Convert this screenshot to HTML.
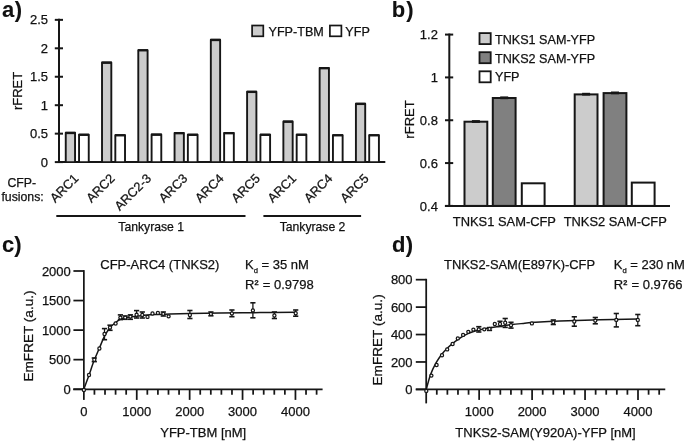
<!DOCTYPE html>
<html><head><meta charset="utf-8"><title>Figure</title>
<style>
html,body{margin:0;padding:0;background:#fff;}
body{width:685px;height:442px;overflow:hidden;}
svg{display:block;filter:grayscale(1);}
text{font-family:"Liberation Sans",sans-serif;fill:#111;stroke:#111;stroke-width:0.25px;}
text[font-weight=bold]{stroke-width:0.1px;}
</style></head><body>
<svg width="685" height="442" viewBox="0 0 685 442">
<rect x="0" y="0" width="685" height="442" fill="#fff"/>
<text x="1.9" y="16.5" font-size="22" text-anchor="start" font-weight="bold" >a<tspan dx="0.6">)</tspan></text>
<text x="391.8" y="16.6" font-size="22" text-anchor="start" font-weight="bold" >b<tspan dx="1.1">)</tspan></text>
<text x="2" y="252" font-size="22" text-anchor="start" font-weight="bold" >c)</text>
<text x="391.9" y="251.9" font-size="22" text-anchor="start" font-weight="bold" >d<tspan dx="0.5">)</tspan></text>
<line x1="54.8" y1="162.1" x2="63" y2="162.1" stroke="#161616" stroke-width="2" stroke-linecap="butt"/>
<text x="48" y="166.7" font-size="13" text-anchor="end" font-weight="normal" >0</text>
<line x1="54.8" y1="133.65" x2="63" y2="133.65" stroke="#161616" stroke-width="2" stroke-linecap="butt"/>
<text x="48" y="138.25" font-size="13" text-anchor="end" font-weight="normal" >0.5</text>
<line x1="54.8" y1="105.2" x2="63" y2="105.2" stroke="#161616" stroke-width="2" stroke-linecap="butt"/>
<text x="48" y="109.8" font-size="13" text-anchor="end" font-weight="normal" >1</text>
<line x1="54.8" y1="76.75" x2="63" y2="76.75" stroke="#161616" stroke-width="2" stroke-linecap="butt"/>
<text x="48" y="81.35" font-size="13" text-anchor="end" font-weight="normal" >1.5</text>
<line x1="54.8" y1="48.3" x2="63" y2="48.3" stroke="#161616" stroke-width="2" stroke-linecap="butt"/>
<text x="48" y="52.9" font-size="13" text-anchor="end" font-weight="normal" >2</text>
<line x1="54.8" y1="19.85" x2="63" y2="19.85" stroke="#161616" stroke-width="2" stroke-linecap="butt"/>
<text x="48" y="24.45" font-size="13" text-anchor="end" font-weight="normal" >2.5</text>
<line x1="59" y1="18.85" x2="59" y2="163.1" stroke="#161616" stroke-width="2" stroke-linecap="butt"/>
<line x1="58.2" y1="162.1" x2="385.3" y2="162.1" stroke="#161616" stroke-width="2" stroke-linecap="butt"/>
<text x="21.7" y="90.9" font-size="13" text-anchor="middle" font-weight="normal" transform="rotate(-90 21.7 90.9)">rFRET</text>
<rect x="65.75" y="132.8" width="9.3" height="29.3" fill="#cccccc" stroke="#161616" stroke-width="1.9" stroke-linejoin="round"/>
<line x1="65.35" y1="133" x2="75.45" y2="133" stroke="#161616" stroke-width="2.3" stroke-linecap="butt"/>
<rect x="79.05" y="134.6" width="9.7" height="27.5" fill="#ffffff" stroke="#161616" stroke-width="1.9" stroke-linejoin="round"/>
<line x1="78.65" y1="134.8" x2="89.15" y2="134.8" stroke="#161616" stroke-width="2.3" stroke-linecap="butt"/>
<text x="79.4" y="179.1" font-size="12.8" text-anchor="end" font-weight="normal" transform="rotate(-45 79.4 179.1)">ARC1</text>
<rect x="102.02" y="62.5" width="9.3" height="99.6" fill="#cccccc" stroke="#161616" stroke-width="1.9" stroke-linejoin="round"/>
<line x1="101.62" y1="62.7" x2="111.72" y2="62.7" stroke="#161616" stroke-width="2.3" stroke-linecap="butt"/>
<rect x="115.32" y="135.1" width="9.7" height="27" fill="#ffffff" stroke="#161616" stroke-width="1.9" stroke-linejoin="round"/>
<line x1="114.92" y1="135.3" x2="125.42" y2="135.3" stroke="#161616" stroke-width="2.3" stroke-linecap="butt"/>
<text x="115.67" y="179.1" font-size="12.8" text-anchor="end" font-weight="normal" transform="rotate(-45 115.67 179.1)">ARC2</text>
<rect x="138.29" y="50.1" width="9.3" height="112" fill="#cccccc" stroke="#161616" stroke-width="1.9" stroke-linejoin="round"/>
<line x1="137.89" y1="50.3" x2="147.99" y2="50.3" stroke="#161616" stroke-width="2.3" stroke-linecap="butt"/>
<rect x="151.59" y="134.5" width="9.7" height="27.6" fill="#ffffff" stroke="#161616" stroke-width="1.9" stroke-linejoin="round"/>
<line x1="151.19" y1="134.7" x2="161.69" y2="134.7" stroke="#161616" stroke-width="2.3" stroke-linecap="butt"/>
<text x="151.94" y="179.1" font-size="12.8" text-anchor="end" font-weight="normal" transform="rotate(-45 151.94 179.1)">ARC2-3</text>
<rect x="174.56" y="133" width="9.3" height="29.1" fill="#cccccc" stroke="#161616" stroke-width="1.9" stroke-linejoin="round"/>
<line x1="174.16" y1="133.2" x2="184.26" y2="133.2" stroke="#161616" stroke-width="2.3" stroke-linecap="butt"/>
<rect x="187.86" y="134.6" width="9.7" height="27.5" fill="#ffffff" stroke="#161616" stroke-width="1.9" stroke-linejoin="round"/>
<line x1="187.46" y1="134.8" x2="197.96" y2="134.8" stroke="#161616" stroke-width="2.3" stroke-linecap="butt"/>
<text x="188.21" y="179.1" font-size="12.8" text-anchor="end" font-weight="normal" transform="rotate(-45 188.21 179.1)">ARC3</text>
<rect x="210.83" y="39.8" width="9.3" height="122.3" fill="#cccccc" stroke="#161616" stroke-width="1.9" stroke-linejoin="round"/>
<line x1="210.43" y1="40" x2="220.53" y2="40" stroke="#161616" stroke-width="2.3" stroke-linecap="butt"/>
<rect x="224.13" y="133" width="9.7" height="29.1" fill="#ffffff" stroke="#161616" stroke-width="1.9" stroke-linejoin="round"/>
<line x1="223.73" y1="133.2" x2="234.23" y2="133.2" stroke="#161616" stroke-width="2.3" stroke-linecap="butt"/>
<text x="224.48" y="179.1" font-size="12.8" text-anchor="end" font-weight="normal" transform="rotate(-45 224.48 179.1)">ARC4</text>
<rect x="247.1" y="91.7" width="9.3" height="70.4" fill="#cccccc" stroke="#161616" stroke-width="1.9" stroke-linejoin="round"/>
<line x1="246.7" y1="91.9" x2="256.8" y2="91.9" stroke="#161616" stroke-width="2.3" stroke-linecap="butt"/>
<rect x="260.4" y="134.6" width="9.7" height="27.5" fill="#ffffff" stroke="#161616" stroke-width="1.9" stroke-linejoin="round"/>
<line x1="260" y1="134.8" x2="270.5" y2="134.8" stroke="#161616" stroke-width="2.3" stroke-linecap="butt"/>
<text x="260.75" y="179.1" font-size="12.8" text-anchor="end" font-weight="normal" transform="rotate(-45 260.75 179.1)">ARC5</text>
<rect x="283.37" y="121.5" width="9.3" height="40.6" fill="#cccccc" stroke="#161616" stroke-width="1.9" stroke-linejoin="round"/>
<line x1="282.97" y1="121.7" x2="293.07" y2="121.7" stroke="#161616" stroke-width="2.3" stroke-linecap="butt"/>
<rect x="296.67" y="134.6" width="9.7" height="27.5" fill="#ffffff" stroke="#161616" stroke-width="1.9" stroke-linejoin="round"/>
<line x1="296.27" y1="134.8" x2="306.77" y2="134.8" stroke="#161616" stroke-width="2.3" stroke-linecap="butt"/>
<text x="297.02" y="179.1" font-size="12.8" text-anchor="end" font-weight="normal" transform="rotate(-45 297.02 179.1)">ARC1</text>
<rect x="319.64" y="68" width="9.3" height="94.1" fill="#cccccc" stroke="#161616" stroke-width="1.9" stroke-linejoin="round"/>
<line x1="319.24" y1="68.2" x2="329.34" y2="68.2" stroke="#161616" stroke-width="2.3" stroke-linecap="butt"/>
<rect x="332.94" y="135.1" width="9.7" height="27" fill="#ffffff" stroke="#161616" stroke-width="1.9" stroke-linejoin="round"/>
<line x1="332.54" y1="135.3" x2="343.04" y2="135.3" stroke="#161616" stroke-width="2.3" stroke-linecap="butt"/>
<text x="333.29" y="179.1" font-size="12.8" text-anchor="end" font-weight="normal" transform="rotate(-45 333.29 179.1)">ARC4</text>
<rect x="355.91" y="103.7" width="9.3" height="58.4" fill="#cccccc" stroke="#161616" stroke-width="1.9" stroke-linejoin="round"/>
<line x1="355.51" y1="103.9" x2="365.61" y2="103.9" stroke="#161616" stroke-width="2.3" stroke-linecap="butt"/>
<rect x="369.21" y="135.1" width="9.7" height="27" fill="#ffffff" stroke="#161616" stroke-width="1.9" stroke-linejoin="round"/>
<line x1="368.81" y1="135.3" x2="379.31" y2="135.3" stroke="#161616" stroke-width="2.3" stroke-linecap="butt"/>
<text x="369.56" y="179.1" font-size="12.8" text-anchor="end" font-weight="normal" transform="rotate(-45 369.56 179.1)">ARC5</text>
<rect x="252.1" y="25.5" width="11.2" height="10.8" fill="#cccccc" stroke="#161616" stroke-width="1.7"/>
<text x="268.5" y="35.6" font-size="12.6" text-anchor="start" font-weight="normal" >YFP-TBM</text>
<rect x="329.9" y="25.5" width="11.5" height="10.8" fill="#fff" stroke="#161616" stroke-width="1.7"/>
<text x="345.3" y="35.6" font-size="12.6" text-anchor="start" font-weight="normal" >YFP</text>
<text x="7.4" y="187.3" font-size="12.3" text-anchor="start" font-weight="normal" >CFP-</text>
<text x="1.4" y="200.6" font-size="12.3" text-anchor="start" font-weight="normal" >fusions:</text>
<line x1="56.3" y1="215.9" x2="245.5" y2="215.9" stroke="#161616" stroke-width="2" stroke-linecap="butt"/>
<line x1="263.4" y1="215.9" x2="361.1" y2="215.9" stroke="#161616" stroke-width="2" stroke-linecap="butt"/>
<text x="151.2" y="231.4" font-size="12.2" text-anchor="middle" font-weight="normal" >Tankyrase 1</text>
<text x="312.5" y="231.4" font-size="12.2" text-anchor="middle" font-weight="normal" >Tankyrase 2</text>
<line x1="445" y1="205.9" x2="453.2" y2="205.9" stroke="#161616" stroke-width="2" stroke-linecap="butt"/>
<text x="437.9" y="210.5" font-size="13" text-anchor="end" font-weight="normal" >0.4</text>
<line x1="445" y1="163.07" x2="453.2" y2="163.07" stroke="#161616" stroke-width="2" stroke-linecap="butt"/>
<text x="437.9" y="167.67" font-size="13" text-anchor="end" font-weight="normal" >0.6</text>
<line x1="445" y1="120.24" x2="453.2" y2="120.24" stroke="#161616" stroke-width="2" stroke-linecap="butt"/>
<text x="437.9" y="124.84" font-size="13" text-anchor="end" font-weight="normal" >0.8</text>
<line x1="445" y1="77.41" x2="453.2" y2="77.41" stroke="#161616" stroke-width="2" stroke-linecap="butt"/>
<text x="437.9" y="82.01" font-size="13" text-anchor="end" font-weight="normal" >1</text>
<line x1="445" y1="34.58" x2="453.2" y2="34.58" stroke="#161616" stroke-width="2" stroke-linecap="butt"/>
<text x="437.9" y="39.18" font-size="13" text-anchor="end" font-weight="normal" >1.2</text>
<line x1="449.3" y1="33.58" x2="449.3" y2="206.9" stroke="#161616" stroke-width="2" stroke-linecap="butt"/>
<line x1="444.9" y1="205.9" x2="670" y2="205.9" stroke="#161616" stroke-width="2" stroke-linecap="butt"/>
<text x="414" y="119.5" font-size="13" text-anchor="middle" font-weight="normal" transform="rotate(-90 414 119.5)">rFRET</text>
<rect x="464.5" y="121.7" width="22.8" height="84.2" fill="#cccccc" stroke="#161616" stroke-width="2"/>
<line x1="471.9" y1="121.5" x2="479.9" y2="121.5" stroke="#161616" stroke-width="2.8" stroke-linecap="butt"/>
<rect x="492.8" y="98" width="22.8" height="107.9" fill="#808080" stroke="#161616" stroke-width="2"/>
<line x1="500.2" y1="97.8" x2="508.2" y2="97.8" stroke="#161616" stroke-width="2.8" stroke-linecap="butt"/>
<rect x="521.8" y="183.3" width="22.8" height="22.6" fill="#ffffff" stroke="#161616" stroke-width="2"/>
<rect x="574.7" y="94.4" width="22.8" height="111.5" fill="#cccccc" stroke="#161616" stroke-width="2"/>
<line x1="582.1" y1="94.2" x2="590.1" y2="94.2" stroke="#161616" stroke-width="2.8" stroke-linecap="butt"/>
<rect x="603.6" y="93.1" width="22.8" height="112.8" fill="#808080" stroke="#161616" stroke-width="2"/>
<line x1="611" y1="92.9" x2="619" y2="92.9" stroke="#161616" stroke-width="2.8" stroke-linecap="butt"/>
<rect x="631.8" y="182.6" width="22.8" height="23.3" fill="#ffffff" stroke="#161616" stroke-width="2"/>
<rect x="479.5" y="33.1" width="11.2" height="11" fill="#cccccc" stroke="#161616" stroke-width="1.8"/>
<text x="495" y="43.8" font-size="12.6" text-anchor="start" font-weight="normal" >TNKS1 SAM-YFP</text>
<rect x="479.5" y="52.2" width="11.2" height="11" fill="#808080" stroke="#161616" stroke-width="1.8"/>
<text x="495" y="62.5" font-size="12.6" text-anchor="start" font-weight="normal" >TNKS2 SAM-YFP</text>
<rect x="479.5" y="71.3" width="11.2" height="11" fill="#ffffff" stroke="#161616" stroke-width="1.8"/>
<text x="495" y="81.2" font-size="12.6" text-anchor="start" font-weight="normal" >YFP</text>
<text x="504.4" y="225.6" font-size="12.9" text-anchor="middle" font-weight="normal" >TNKS1 SAM-CFP</text>
<text x="615.2" y="225.6" font-size="12.9" text-anchor="middle" font-weight="normal" >TNKS2 SAM-CFP</text>
<line x1="83.85" y1="270.12" x2="83.85" y2="390.2" stroke="#161616" stroke-width="1.75" stroke-linecap="butt"/>
<line x1="73.4" y1="389.2" x2="83.85" y2="389.2" stroke="#161616" stroke-width="1.75" stroke-linecap="butt"/>
<text x="70.8" y="393.8" font-size="13" text-anchor="end" font-weight="normal" >0</text>
<line x1="73.4" y1="359.65" x2="83.85" y2="359.65" stroke="#161616" stroke-width="1.75" stroke-linecap="butt"/>
<text x="70.8" y="364.25" font-size="13" text-anchor="end" font-weight="normal" >500</text>
<line x1="73.4" y1="330.1" x2="83.85" y2="330.1" stroke="#161616" stroke-width="1.75" stroke-linecap="butt"/>
<text x="70.8" y="334.7" font-size="13" text-anchor="end" font-weight="normal" >1000</text>
<line x1="73.4" y1="300.55" x2="83.85" y2="300.55" stroke="#161616" stroke-width="1.75" stroke-linecap="butt"/>
<text x="70.8" y="305.15" font-size="13" text-anchor="end" font-weight="normal" >1500</text>
<line x1="73.4" y1="271" x2="83.85" y2="271" stroke="#161616" stroke-width="1.75" stroke-linecap="butt"/>
<text x="70.8" y="275.6" font-size="13" text-anchor="end" font-weight="normal" >2000</text>
<line x1="73.2" y1="389.4" x2="322.6" y2="389.4" stroke="#161616" stroke-width="1.75" stroke-linecap="butt"/>
<line x1="83.85" y1="389.2" x2="83.85" y2="399.9" stroke="#161616" stroke-width="1.75" stroke-linecap="butt"/>
<line x1="94.43" y1="389.2" x2="94.43" y2="394.7" stroke="#161616" stroke-width="1.75" stroke-linecap="butt"/>
<line x1="105.01" y1="389.2" x2="105.01" y2="394.7" stroke="#161616" stroke-width="1.75" stroke-linecap="butt"/>
<line x1="115.59" y1="389.2" x2="115.59" y2="394.7" stroke="#161616" stroke-width="1.75" stroke-linecap="butt"/>
<line x1="126.17" y1="389.2" x2="126.17" y2="394.7" stroke="#161616" stroke-width="1.75" stroke-linecap="butt"/>
<line x1="136.75" y1="389.2" x2="136.75" y2="399.9" stroke="#161616" stroke-width="1.75" stroke-linecap="butt"/>
<line x1="147.33" y1="389.2" x2="147.33" y2="394.7" stroke="#161616" stroke-width="1.75" stroke-linecap="butt"/>
<line x1="157.91" y1="389.2" x2="157.91" y2="394.7" stroke="#161616" stroke-width="1.75" stroke-linecap="butt"/>
<line x1="168.49" y1="389.2" x2="168.49" y2="394.7" stroke="#161616" stroke-width="1.75" stroke-linecap="butt"/>
<line x1="179.07" y1="389.2" x2="179.07" y2="394.7" stroke="#161616" stroke-width="1.75" stroke-linecap="butt"/>
<line x1="189.65" y1="389.2" x2="189.65" y2="399.9" stroke="#161616" stroke-width="1.75" stroke-linecap="butt"/>
<line x1="200.23" y1="389.2" x2="200.23" y2="394.7" stroke="#161616" stroke-width="1.75" stroke-linecap="butt"/>
<line x1="210.81" y1="389.2" x2="210.81" y2="394.7" stroke="#161616" stroke-width="1.75" stroke-linecap="butt"/>
<line x1="221.39" y1="389.2" x2="221.39" y2="394.7" stroke="#161616" stroke-width="1.75" stroke-linecap="butt"/>
<line x1="231.97" y1="389.2" x2="231.97" y2="394.7" stroke="#161616" stroke-width="1.75" stroke-linecap="butt"/>
<line x1="242.55" y1="389.2" x2="242.55" y2="399.9" stroke="#161616" stroke-width="1.75" stroke-linecap="butt"/>
<line x1="253.13" y1="389.2" x2="253.13" y2="394.7" stroke="#161616" stroke-width="1.75" stroke-linecap="butt"/>
<line x1="263.71" y1="389.2" x2="263.71" y2="394.7" stroke="#161616" stroke-width="1.75" stroke-linecap="butt"/>
<line x1="274.29" y1="389.2" x2="274.29" y2="394.7" stroke="#161616" stroke-width="1.75" stroke-linecap="butt"/>
<line x1="284.87" y1="389.2" x2="284.87" y2="394.7" stroke="#161616" stroke-width="1.75" stroke-linecap="butt"/>
<line x1="295.45" y1="389.2" x2="295.45" y2="399.9" stroke="#161616" stroke-width="1.75" stroke-linecap="butt"/>
<line x1="306.03" y1="389.2" x2="306.03" y2="394.7" stroke="#161616" stroke-width="1.75" stroke-linecap="butt"/>
<line x1="316.61" y1="389.2" x2="316.61" y2="394.7" stroke="#161616" stroke-width="1.75" stroke-linecap="butt"/>
<text x="83.85" y="415.5" font-size="13" text-anchor="middle" font-weight="normal" >0</text>
<text x="136.75" y="415.5" font-size="13" text-anchor="middle" font-weight="normal" >1000</text>
<text x="189.65" y="415.5" font-size="13" text-anchor="middle" font-weight="normal" >2000</text>
<text x="242.55" y="415.5" font-size="13" text-anchor="middle" font-weight="normal" >3000</text>
<text x="295.45" y="415.5" font-size="13" text-anchor="middle" font-weight="normal" >4000</text>
<text x="203.2" y="437.4" font-size="13" text-anchor="middle" font-weight="normal" >YFP-TBM [nM]</text>
<text x="32.6" y="336" font-size="13.6" text-anchor="middle" font-weight="normal" transform="rotate(-90 32.6 336)">EmFRET (a.u.)</text>
<text x="100.25" y="269" font-size="13" text-anchor="start" font-weight="normal" >CFP-ARC4 (TNKS2)</text>
<text x="245" y="268.8" font-size="13" text-anchor="start" font-weight="normal" >K<tspan font-size="7.6" dy="4.6">d</tspan><tspan dy="-4.6"> = 35 nM</tspan></text>
<text x="245" y="289" font-size="13" text-anchor="start" font-weight="normal" >R<tspan font-size="7.4" dy="-4.3" font-weight="bold">2</tspan><tspan dy="4.3" dx="0.6"> = 0.9798</tspan></text>
<path d="M83.8,389.3 C84.65,386.98 87.18,380.18 88.9,375.4 C90.62,370.62 92.32,365.23 94.1,360.6 C95.88,355.97 97.88,351.63 99.6,347.6 C101.32,343.57 102.68,339.72 104.4,336.4 C106.12,333.08 108.08,329.97 109.9,327.7 C111.72,325.43 113.67,324.15 115.3,322.8 C116.93,321.45 117.92,320.43 119.7,319.6 C121.48,318.77 123.62,318.32 126,317.8 C128.38,317.28 131.03,316.9 134,316.5 C136.97,316.1 140.3,315.73 143.8,315.4 C147.3,315.07 150.63,314.75 155,314.5 C159.37,314.25 164.17,314.08 170,313.9 C175.83,313.72 181.67,313.55 190,313.4 C198.33,313.25 208.33,313.13 220,313 C231.67,312.87 247.33,312.72 260,312.6 C272.67,312.48 290,312.35 296,312.3" fill="none" stroke="#161616" stroke-width="1.5"/>
<circle cx="83.9" cy="390" r="1.55" fill="#fff" stroke="#161616" stroke-width="1.25"/>
<circle cx="89" cy="375" r="1.55" fill="#fff" stroke="#161616" stroke-width="1.25"/>
<line x1="94.3" y1="358" x2="94.3" y2="361.6" stroke="#161616" stroke-width="1.3" stroke-linecap="butt"/>
<line x1="91.7" y1="358" x2="96.9" y2="358" stroke="#161616" stroke-width="1.6" stroke-linecap="butt"/>
<line x1="91.7" y1="361.6" x2="96.9" y2="361.6" stroke="#161616" stroke-width="1.6" stroke-linecap="butt"/>
<circle cx="94.3" cy="359.7" r="1.55" fill="#fff" stroke="#161616" stroke-width="1.25"/>
<circle cx="99.4" cy="348.5" r="1.55" fill="#fff" stroke="#161616" stroke-width="1.25"/>
<line x1="104.5" y1="328.6" x2="104.5" y2="339.7" stroke="#161616" stroke-width="1.3" stroke-linecap="butt"/>
<line x1="101.9" y1="328.6" x2="107.1" y2="328.6" stroke="#161616" stroke-width="1.6" stroke-linecap="butt"/>
<line x1="101.9" y1="339.7" x2="107.1" y2="339.7" stroke="#161616" stroke-width="1.6" stroke-linecap="butt"/>
<circle cx="104.5" cy="334" r="1.55" fill="#fff" stroke="#161616" stroke-width="1.25"/>
<line x1="110" y1="325.2" x2="110" y2="330.3" stroke="#161616" stroke-width="1.3" stroke-linecap="butt"/>
<line x1="107.4" y1="325.2" x2="112.6" y2="325.2" stroke="#161616" stroke-width="1.6" stroke-linecap="butt"/>
<line x1="107.4" y1="330.3" x2="112.6" y2="330.3" stroke="#161616" stroke-width="1.6" stroke-linecap="butt"/>
<circle cx="110" cy="327.5" r="1.55" fill="#fff" stroke="#161616" stroke-width="1.25"/>
<circle cx="115.6" cy="323.5" r="1.55" fill="#fff" stroke="#161616" stroke-width="1.25"/>
<line x1="120.4" y1="314.9" x2="120.4" y2="319.6" stroke="#161616" stroke-width="1.3" stroke-linecap="butt"/>
<line x1="117.8" y1="314.9" x2="123" y2="314.9" stroke="#161616" stroke-width="1.6" stroke-linecap="butt"/>
<line x1="117.8" y1="319.6" x2="123" y2="319.6" stroke="#161616" stroke-width="1.6" stroke-linecap="butt"/>
<circle cx="120.4" cy="317.6" r="1.55" fill="#fff" stroke="#161616" stroke-width="1.25"/>
<line x1="125.2" y1="316" x2="125.2" y2="319.3" stroke="#161616" stroke-width="1.3" stroke-linecap="butt"/>
<line x1="122.6" y1="316" x2="127.8" y2="316" stroke="#161616" stroke-width="1.6" stroke-linecap="butt"/>
<line x1="122.6" y1="319.3" x2="127.8" y2="319.3" stroke="#161616" stroke-width="1.6" stroke-linecap="butt"/>
<circle cx="125.2" cy="317.6" r="1.55" fill="#fff" stroke="#161616" stroke-width="1.25"/>
<line x1="130.4" y1="314.9" x2="130.4" y2="319.3" stroke="#161616" stroke-width="1.3" stroke-linecap="butt"/>
<line x1="127.8" y1="314.9" x2="133" y2="314.9" stroke="#161616" stroke-width="1.6" stroke-linecap="butt"/>
<line x1="127.8" y1="319.3" x2="133" y2="319.3" stroke="#161616" stroke-width="1.6" stroke-linecap="butt"/>
<circle cx="130.4" cy="316.6" r="1.55" fill="#fff" stroke="#161616" stroke-width="1.25"/>
<line x1="136.6" y1="310.6" x2="136.6" y2="318" stroke="#161616" stroke-width="1.3" stroke-linecap="butt"/>
<line x1="134" y1="310.6" x2="139.2" y2="310.6" stroke="#161616" stroke-width="1.6" stroke-linecap="butt"/>
<line x1="134" y1="318" x2="139.2" y2="318" stroke="#161616" stroke-width="1.6" stroke-linecap="butt"/>
<circle cx="136.6" cy="314.7" r="1.55" fill="#fff" stroke="#161616" stroke-width="1.25"/>
<line x1="142.3" y1="312" x2="142.3" y2="318" stroke="#161616" stroke-width="1.3" stroke-linecap="butt"/>
<line x1="139.7" y1="312" x2="144.9" y2="312" stroke="#161616" stroke-width="1.6" stroke-linecap="butt"/>
<line x1="139.7" y1="318" x2="144.9" y2="318" stroke="#161616" stroke-width="1.6" stroke-linecap="butt"/>
<circle cx="142.3" cy="314.9" r="1.55" fill="#fff" stroke="#161616" stroke-width="1.25"/>
<circle cx="147.5" cy="316.9" r="1.55" fill="#fff" stroke="#161616" stroke-width="1.25"/>
<circle cx="152.5" cy="313.5" r="1.55" fill="#fff" stroke="#161616" stroke-width="1.25"/>
<circle cx="157.9" cy="312.9" r="1.55" fill="#fff" stroke="#161616" stroke-width="1.25"/>
<line x1="163.3" y1="312" x2="163.3" y2="316" stroke="#161616" stroke-width="1.3" stroke-linecap="butt"/>
<line x1="160.7" y1="312" x2="165.9" y2="312" stroke="#161616" stroke-width="1.6" stroke-linecap="butt"/>
<line x1="160.7" y1="316" x2="165.9" y2="316" stroke="#161616" stroke-width="1.6" stroke-linecap="butt"/>
<circle cx="163.3" cy="313.8" r="1.55" fill="#fff" stroke="#161616" stroke-width="1.25"/>
<circle cx="168.6" cy="316.3" r="1.55" fill="#fff" stroke="#161616" stroke-width="1.25"/>
<line x1="189.9" y1="310.5" x2="189.9" y2="318.5" stroke="#161616" stroke-width="1.3" stroke-linecap="butt"/>
<line x1="187.3" y1="310.5" x2="192.5" y2="310.5" stroke="#161616" stroke-width="1.6" stroke-linecap="butt"/>
<line x1="187.3" y1="318.5" x2="192.5" y2="318.5" stroke="#161616" stroke-width="1.6" stroke-linecap="butt"/>
<circle cx="189.9" cy="315" r="1.55" fill="#fff" stroke="#161616" stroke-width="1.25"/>
<line x1="210.9" y1="312" x2="210.9" y2="315.8" stroke="#161616" stroke-width="1.3" stroke-linecap="butt"/>
<line x1="208.3" y1="312" x2="213.5" y2="312" stroke="#161616" stroke-width="1.6" stroke-linecap="butt"/>
<line x1="208.3" y1="315.8" x2="213.5" y2="315.8" stroke="#161616" stroke-width="1.6" stroke-linecap="butt"/>
<circle cx="210.9" cy="313.9" r="1.55" fill="#fff" stroke="#161616" stroke-width="1.25"/>
<line x1="231.9" y1="310" x2="231.9" y2="316.7" stroke="#161616" stroke-width="1.3" stroke-linecap="butt"/>
<line x1="229.3" y1="310" x2="234.5" y2="310" stroke="#161616" stroke-width="1.6" stroke-linecap="butt"/>
<line x1="229.3" y1="316.7" x2="234.5" y2="316.7" stroke="#161616" stroke-width="1.6" stroke-linecap="butt"/>
<circle cx="231.9" cy="313.4" r="1.55" fill="#fff" stroke="#161616" stroke-width="1.25"/>
<line x1="252.9" y1="302.8" x2="252.9" y2="317.8" stroke="#161616" stroke-width="1.3" stroke-linecap="butt"/>
<line x1="250.3" y1="302.8" x2="255.5" y2="302.8" stroke="#161616" stroke-width="1.6" stroke-linecap="butt"/>
<line x1="250.3" y1="317.8" x2="255.5" y2="317.8" stroke="#161616" stroke-width="1.6" stroke-linecap="butt"/>
<circle cx="252.9" cy="310.4" r="1.55" fill="#fff" stroke="#161616" stroke-width="1.25"/>
<line x1="274.4" y1="312" x2="274.4" y2="318.5" stroke="#161616" stroke-width="1.3" stroke-linecap="butt"/>
<line x1="271.8" y1="312" x2="277" y2="312" stroke="#161616" stroke-width="1.6" stroke-linecap="butt"/>
<line x1="271.8" y1="318.5" x2="277" y2="318.5" stroke="#161616" stroke-width="1.6" stroke-linecap="butt"/>
<circle cx="274.4" cy="315.5" r="1.55" fill="#fff" stroke="#161616" stroke-width="1.25"/>
<line x1="295.7" y1="310" x2="295.7" y2="316.2" stroke="#161616" stroke-width="1.3" stroke-linecap="butt"/>
<line x1="293.1" y1="310" x2="298.3" y2="310" stroke="#161616" stroke-width="1.6" stroke-linecap="butt"/>
<line x1="293.1" y1="316.2" x2="298.3" y2="316.2" stroke="#161616" stroke-width="1.6" stroke-linecap="butt"/>
<circle cx="295.7" cy="313.2" r="1.55" fill="#fff" stroke="#161616" stroke-width="1.25"/>
<line x1="426.2" y1="278.8" x2="426.2" y2="403.4" stroke="#161616" stroke-width="1.75" stroke-linecap="butt"/>
<line x1="415.8" y1="389.4" x2="426.2" y2="389.4" stroke="#161616" stroke-width="1.75" stroke-linecap="butt"/>
<text x="412.6" y="394" font-size="13" text-anchor="end" font-weight="normal" >0</text>
<line x1="415.8" y1="361.97" x2="426.2" y2="361.97" stroke="#161616" stroke-width="1.75" stroke-linecap="butt"/>
<text x="412.6" y="366.57" font-size="13" text-anchor="end" font-weight="normal" >200</text>
<line x1="415.8" y1="334.54" x2="426.2" y2="334.54" stroke="#161616" stroke-width="1.75" stroke-linecap="butt"/>
<text x="412.6" y="339.14" font-size="13" text-anchor="end" font-weight="normal" >400</text>
<line x1="415.8" y1="307.11" x2="426.2" y2="307.11" stroke="#161616" stroke-width="1.75" stroke-linecap="butt"/>
<text x="412.6" y="311.71" font-size="13" text-anchor="end" font-weight="normal" >600</text>
<line x1="415.8" y1="279.68" x2="426.2" y2="279.68" stroke="#161616" stroke-width="1.75" stroke-linecap="butt"/>
<text x="412.6" y="284.28" font-size="13" text-anchor="end" font-weight="normal" >800</text>
<line x1="415.8" y1="389.3" x2="665.27" y2="389.3" stroke="#161616" stroke-width="1.75" stroke-linecap="butt"/>
<line x1="436.79" y1="389.4" x2="436.79" y2="394.7" stroke="#161616" stroke-width="1.75" stroke-linecap="butt"/>
<line x1="447.38" y1="389.4" x2="447.38" y2="394.7" stroke="#161616" stroke-width="1.75" stroke-linecap="butt"/>
<line x1="457.97" y1="389.4" x2="457.97" y2="394.7" stroke="#161616" stroke-width="1.75" stroke-linecap="butt"/>
<line x1="468.56" y1="389.4" x2="468.56" y2="394.7" stroke="#161616" stroke-width="1.75" stroke-linecap="butt"/>
<line x1="479.15" y1="389.4" x2="479.15" y2="399.9" stroke="#161616" stroke-width="1.75" stroke-linecap="butt"/>
<line x1="489.74" y1="389.4" x2="489.74" y2="394.7" stroke="#161616" stroke-width="1.75" stroke-linecap="butt"/>
<line x1="500.33" y1="389.4" x2="500.33" y2="394.7" stroke="#161616" stroke-width="1.75" stroke-linecap="butt"/>
<line x1="510.92" y1="389.4" x2="510.92" y2="394.7" stroke="#161616" stroke-width="1.75" stroke-linecap="butt"/>
<line x1="521.51" y1="389.4" x2="521.51" y2="394.7" stroke="#161616" stroke-width="1.75" stroke-linecap="butt"/>
<line x1="532.1" y1="389.4" x2="532.1" y2="399.9" stroke="#161616" stroke-width="1.75" stroke-linecap="butt"/>
<line x1="542.69" y1="389.4" x2="542.69" y2="394.7" stroke="#161616" stroke-width="1.75" stroke-linecap="butt"/>
<line x1="553.28" y1="389.4" x2="553.28" y2="394.7" stroke="#161616" stroke-width="1.75" stroke-linecap="butt"/>
<line x1="563.87" y1="389.4" x2="563.87" y2="394.7" stroke="#161616" stroke-width="1.75" stroke-linecap="butt"/>
<line x1="574.46" y1="389.4" x2="574.46" y2="394.7" stroke="#161616" stroke-width="1.75" stroke-linecap="butt"/>
<line x1="585.05" y1="389.4" x2="585.05" y2="399.9" stroke="#161616" stroke-width="1.75" stroke-linecap="butt"/>
<line x1="595.64" y1="389.4" x2="595.64" y2="394.7" stroke="#161616" stroke-width="1.75" stroke-linecap="butt"/>
<line x1="606.23" y1="389.4" x2="606.23" y2="394.7" stroke="#161616" stroke-width="1.75" stroke-linecap="butt"/>
<line x1="616.82" y1="389.4" x2="616.82" y2="394.7" stroke="#161616" stroke-width="1.75" stroke-linecap="butt"/>
<line x1="627.41" y1="389.4" x2="627.41" y2="394.7" stroke="#161616" stroke-width="1.75" stroke-linecap="butt"/>
<line x1="638" y1="389.4" x2="638" y2="399.9" stroke="#161616" stroke-width="1.75" stroke-linecap="butt"/>
<line x1="648.59" y1="389.4" x2="648.59" y2="394.7" stroke="#161616" stroke-width="1.75" stroke-linecap="butt"/>
<line x1="659.18" y1="389.4" x2="659.18" y2="394.7" stroke="#161616" stroke-width="1.75" stroke-linecap="butt"/>
<text x="479.15" y="415.5" font-size="13" text-anchor="middle" font-weight="normal" >1000</text>
<text x="532.1" y="415.5" font-size="13" text-anchor="middle" font-weight="normal" >2000</text>
<text x="585.05" y="415.5" font-size="13" text-anchor="middle" font-weight="normal" >3000</text>
<text x="638" y="415.5" font-size="13" text-anchor="middle" font-weight="normal" >4000</text>
<text x="545.5" y="436.9" font-size="13" text-anchor="middle" font-weight="normal" >TNKS2-SAM(Y920A)-YFP [nM]</text>
<text x="381.9" y="339.9" font-size="13.6" text-anchor="middle" font-weight="normal" transform="rotate(-90 381.9 339.9)">EmFRET (a.u.)</text>
<text x="444.1" y="268.5" font-size="12.88" text-anchor="start" font-weight="normal" >TNKS2-SAM(E897K)-CFP</text>
<text x="613.8" y="268.8" font-size="13" text-anchor="start" font-weight="normal" >K<tspan font-size="7.6" dy="4.6">d</tspan><tspan dy="-4.6"> = 230 nM</tspan></text>
<text x="613.8" y="289" font-size="13" text-anchor="start" font-weight="normal" >R<tspan font-size="7.4" dy="-4.3" font-weight="bold">2</tspan><tspan dy="4.3" dx="0.6"> = 0.9766</tspan></text>
<path d="M426.3,389.4 C426.98,386.98 428.78,379.32 430.4,374.9 C432.02,370.48 434.13,366.3 436,362.9 C437.87,359.5 439.73,356.95 441.6,354.5 C443.47,352.05 445.33,350.07 447.2,348.2 C449.07,346.33 450.92,344.82 452.8,343.3 C454.68,341.78 456.62,340.38 458.5,339.1 C460.38,337.82 462.23,336.63 464.1,335.6 C465.97,334.57 467.6,333.75 469.7,332.9 C471.8,332.05 473.58,331.3 476.7,330.5 C479.82,329.7 484.52,328.82 488.4,328.1 C492.28,327.38 496.12,326.78 500,326.2 C503.88,325.62 507.8,325.07 511.7,324.6 C515.6,324.13 519.5,323.78 523.4,323.4 C527.3,323.02 529,322.72 535.1,322.3 C541.2,321.88 549.18,321.32 560,320.9 C570.82,320.48 587,320.13 600,319.8 C613,319.47 631.67,319.05 638,318.9" fill="none" stroke="#161616" stroke-width="1.5"/>
<circle cx="426.3" cy="390.9" r="1.55" fill="#fff" stroke="#161616" stroke-width="1.25"/>
<circle cx="431.4" cy="375.6" r="1.55" fill="#fff" stroke="#161616" stroke-width="1.25"/>
<circle cx="436.6" cy="365" r="1.55" fill="#fff" stroke="#161616" stroke-width="1.25"/>
<circle cx="442" cy="355.2" r="1.55" fill="#fff" stroke="#161616" stroke-width="1.25"/>
<circle cx="447.2" cy="349.4" r="1.55" fill="#fff" stroke="#161616" stroke-width="1.25"/>
<circle cx="452.6" cy="344" r="1.55" fill="#fff" stroke="#161616" stroke-width="1.25"/>
<circle cx="457.8" cy="338.4" r="1.55" fill="#fff" stroke="#161616" stroke-width="1.25"/>
<circle cx="463.1" cy="334.9" r="1.55" fill="#fff" stroke="#161616" stroke-width="1.25"/>
<circle cx="468.3" cy="331.8" r="1.55" fill="#fff" stroke="#161616" stroke-width="1.25"/>
<circle cx="473.4" cy="329.6" r="1.55" fill="#fff" stroke="#161616" stroke-width="1.25"/>
<line x1="478.8" y1="326.7" x2="478.8" y2="332" stroke="#161616" stroke-width="1.3" stroke-linecap="butt"/>
<line x1="476.2" y1="326.7" x2="481.4" y2="326.7" stroke="#161616" stroke-width="1.6" stroke-linecap="butt"/>
<line x1="476.2" y1="332" x2="481.4" y2="332" stroke="#161616" stroke-width="1.6" stroke-linecap="butt"/>
<circle cx="478.8" cy="329.3" r="1.55" fill="#fff" stroke="#161616" stroke-width="1.25"/>
<circle cx="484.3" cy="329.3" r="1.55" fill="#fff" stroke="#161616" stroke-width="1.25"/>
<line x1="489.5" y1="327.6" x2="489.5" y2="330.4" stroke="#161616" stroke-width="1.3" stroke-linecap="butt"/>
<line x1="486.9" y1="327.6" x2="492.1" y2="327.6" stroke="#161616" stroke-width="1.6" stroke-linecap="butt"/>
<line x1="486.9" y1="330.4" x2="492.1" y2="330.4" stroke="#161616" stroke-width="1.6" stroke-linecap="butt"/>
<circle cx="489.5" cy="328.9" r="1.55" fill="#fff" stroke="#161616" stroke-width="1.25"/>
<circle cx="494.8" cy="324" r="1.55" fill="#fff" stroke="#161616" stroke-width="1.25"/>
<line x1="500" y1="321.3" x2="500" y2="326.5" stroke="#161616" stroke-width="1.3" stroke-linecap="butt"/>
<line x1="497.4" y1="321.3" x2="502.6" y2="321.3" stroke="#161616" stroke-width="1.6" stroke-linecap="butt"/>
<line x1="497.4" y1="326.5" x2="502.6" y2="326.5" stroke="#161616" stroke-width="1.6" stroke-linecap="butt"/>
<circle cx="500" cy="324" r="1.55" fill="#fff" stroke="#161616" stroke-width="1.25"/>
<line x1="505.2" y1="318.5" x2="505.2" y2="327.4" stroke="#161616" stroke-width="1.3" stroke-linecap="butt"/>
<line x1="502.6" y1="318.5" x2="507.8" y2="318.5" stroke="#161616" stroke-width="1.6" stroke-linecap="butt"/>
<line x1="502.6" y1="327.4" x2="507.8" y2="327.4" stroke="#161616" stroke-width="1.6" stroke-linecap="butt"/>
<circle cx="505.2" cy="322.7" r="1.55" fill="#fff" stroke="#161616" stroke-width="1.25"/>
<line x1="511" y1="322.3" x2="511" y2="328.1" stroke="#161616" stroke-width="1.3" stroke-linecap="butt"/>
<line x1="508.4" y1="322.3" x2="513.6" y2="322.3" stroke="#161616" stroke-width="1.6" stroke-linecap="butt"/>
<line x1="508.4" y1="328.1" x2="513.6" y2="328.1" stroke="#161616" stroke-width="1.6" stroke-linecap="butt"/>
<circle cx="511" cy="325.2" r="1.55" fill="#fff" stroke="#161616" stroke-width="1.25"/>
<circle cx="531.9" cy="323.4" r="1.55" fill="#fff" stroke="#161616" stroke-width="1.25"/>
<line x1="553.3" y1="320" x2="553.3" y2="324.5" stroke="#161616" stroke-width="1.3" stroke-linecap="butt"/>
<line x1="550.7" y1="320" x2="555.9" y2="320" stroke="#161616" stroke-width="1.6" stroke-linecap="butt"/>
<line x1="550.7" y1="324.5" x2="555.9" y2="324.5" stroke="#161616" stroke-width="1.6" stroke-linecap="butt"/>
<circle cx="553.3" cy="322.2" r="1.55" fill="#fff" stroke="#161616" stroke-width="1.25"/>
<line x1="574.3" y1="316.8" x2="574.3" y2="326.2" stroke="#161616" stroke-width="1.3" stroke-linecap="butt"/>
<line x1="571.7" y1="316.8" x2="576.9" y2="316.8" stroke="#161616" stroke-width="1.6" stroke-linecap="butt"/>
<line x1="571.7" y1="326.2" x2="576.9" y2="326.2" stroke="#161616" stroke-width="1.6" stroke-linecap="butt"/>
<circle cx="574.3" cy="321.5" r="1.55" fill="#fff" stroke="#161616" stroke-width="1.25"/>
<line x1="595.3" y1="317.5" x2="595.3" y2="323.8" stroke="#161616" stroke-width="1.3" stroke-linecap="butt"/>
<line x1="592.7" y1="317.5" x2="597.9" y2="317.5" stroke="#161616" stroke-width="1.6" stroke-linecap="butt"/>
<line x1="592.7" y1="323.8" x2="597.9" y2="323.8" stroke="#161616" stroke-width="1.6" stroke-linecap="butt"/>
<circle cx="595.3" cy="320.6" r="1.55" fill="#fff" stroke="#161616" stroke-width="1.25"/>
<line x1="616.3" y1="313.5" x2="616.3" y2="326.9" stroke="#161616" stroke-width="1.3" stroke-linecap="butt"/>
<line x1="613.7" y1="313.5" x2="618.9" y2="313.5" stroke="#161616" stroke-width="1.6" stroke-linecap="butt"/>
<line x1="613.7" y1="326.9" x2="618.9" y2="326.9" stroke="#161616" stroke-width="1.6" stroke-linecap="butt"/>
<circle cx="616.3" cy="319.9" r="1.55" fill="#fff" stroke="#161616" stroke-width="1.25"/>
<line x1="637.8" y1="314.5" x2="637.8" y2="325.7" stroke="#161616" stroke-width="1.3" stroke-linecap="butt"/>
<line x1="635.2" y1="314.5" x2="640.4" y2="314.5" stroke="#161616" stroke-width="1.6" stroke-linecap="butt"/>
<line x1="635.2" y1="325.7" x2="640.4" y2="325.7" stroke="#161616" stroke-width="1.6" stroke-linecap="butt"/>
<circle cx="637.8" cy="319.9" r="1.55" fill="#fff" stroke="#161616" stroke-width="1.25"/>
</svg>
</body></html>
